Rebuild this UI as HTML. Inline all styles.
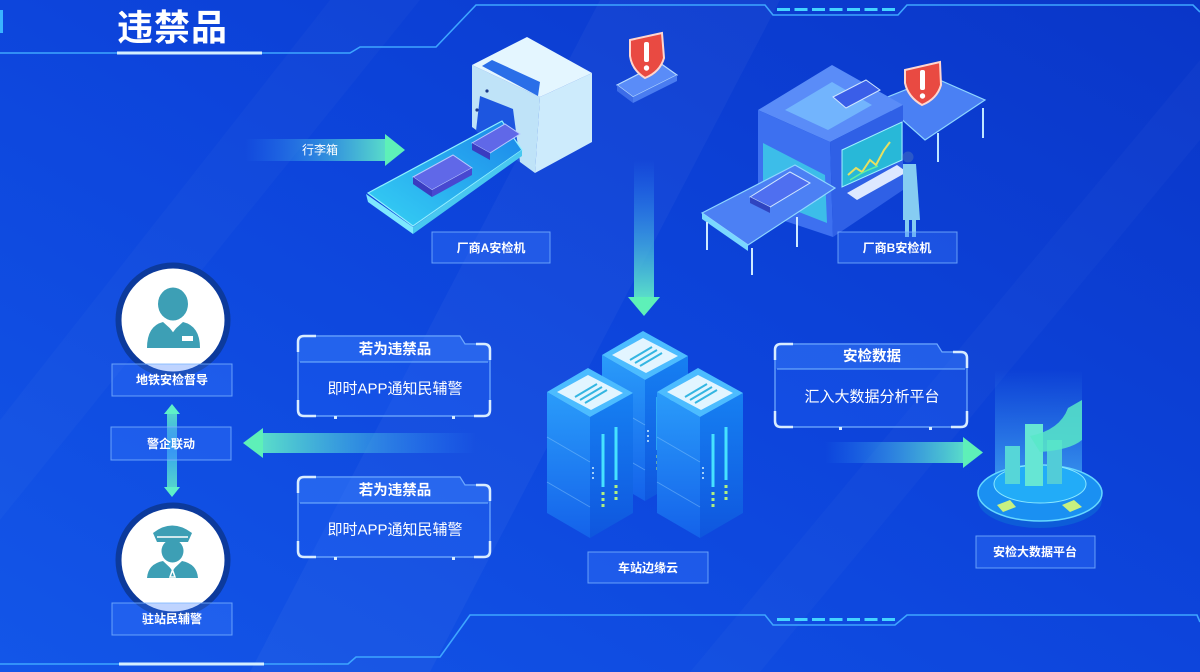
<!DOCTYPE html>
<html><head><meta charset="utf-8"><style>
html,body{margin:0;padding:0;width:1200px;height:672px;overflow:hidden;background:#0d44da}
svg{display:block}
text{font-family:"Liberation Sans","Noto Sans CJK SC",sans-serif;fill:#fff}
</style></head><body>
<svg width="1200" height="672" viewBox="0 0 1200 672" xmlns="http://www.w3.org/2000/svg">
<defs>
<linearGradient id="bg" x1="0" y1="1" x2="1" y2="0">
<stop offset="0" stop-color="#1356e8"/><stop offset="0.5" stop-color="#0d45dc"/><stop offset="1" stop-color="#0a36c8"/>
</linearGradient>
<linearGradient id="arR" x1="0" y1="0" x2="1" y2="0">
<stop offset="0" stop-color="#3aa8ff" stop-opacity="0"/><stop offset="1" stop-color="#5ee6c8" stop-opacity="0.95"/>
</linearGradient>
<linearGradient id="arL" x1="1" y1="0" x2="0" y2="0">
<stop offset="0" stop-color="#3aa8ff" stop-opacity="0"/><stop offset="1" stop-color="#5ee6c8" stop-opacity="0.95"/>
</linearGradient>
<linearGradient id="arD" x1="0" y1="0" x2="0" y2="1">
<stop offset="0" stop-color="#3aa8ff" stop-opacity="0"/><stop offset="1" stop-color="#5ee6c8" stop-opacity="0.95"/>
</linearGradient>
<linearGradient id="vArr" x1="0" y1="0" x2="0" y2="1">
<stop offset="0" stop-color="#5ee6c8"/><stop offset="0.5" stop-color="#3ab0f0"/><stop offset="1" stop-color="#5ee6c8"/>
</linearGradient>
<linearGradient id="col" x1="0" y1="0" x2="0" y2="1">
<stop offset="0" stop-color="#60d8ff" stop-opacity="0"/><stop offset="1" stop-color="#60e0ff" stop-opacity="0.55"/>
</linearGradient>
<linearGradient id="svL" x1="0" y1="0" x2="0" y2="1">
<stop offset="0" stop-color="#2a9cfa"/><stop offset="1" stop-color="#1462ea"/>
</linearGradient>
<linearGradient id="svR" x1="0" y1="0" x2="0" y2="1">
<stop offset="0" stop-color="#1680f2"/><stop offset="1" stop-color="#0f56de"/>
</linearGradient>
<linearGradient id="belt" x1="0" y1="1" x2="1" y2="0">
<stop offset="0" stop-color="#36d2f4"/><stop offset="1" stop-color="#1b86ea"/>
</linearGradient>
<g id="server">
<polygon points="0,0 43,25 43,146 0,121" fill="url(#svL)"/>
<polygon points="43,25 86,1 86,121 43,146" fill="url(#svR)"/>
<polygon points="0,0 41,-24 86,1 43,25" fill="#4cbcff"/>
<polygon points="10,0 41,-17 76,1 44,18" fill="#e2f5ff"/>
<line x1="28" y1="5" x2="50" y2="-8" stroke="#34b6e2" stroke-width="2"/>
<line x1="33" y1="8" x2="55" y2="-5" stroke="#34b6e2" stroke-width="2"/>
<line x1="38" y1="11" x2="60" y2="-2" stroke="#34b6e2" stroke-width="2"/>
<line x1="0" y1="45" x2="43" y2="70" stroke="#9ad4ff" stroke-opacity="0.4"/>
<line x1="0" y1="90" x2="43" y2="115" stroke="#9ad4ff" stroke-opacity="0.4"/>
<line x1="56" y1="42" x2="56" y2="95" stroke="#46e2ff" stroke-width="3"/>
<line x1="69" y1="35" x2="69" y2="88" stroke="#46e2ff" stroke-width="3"/>
<line x1="56" y1="100" x2="56" y2="118" stroke="#b0f080" stroke-width="3" stroke-dasharray="3,3"/>
<line x1="69" y1="93" x2="69" y2="111" stroke="#b0f080" stroke-width="3" stroke-dasharray="3,3"/>
<line x1="46" y1="75" x2="46" y2="90" stroke="#cfefff" stroke-width="1.5" stroke-dasharray="2,3"/>
</g>
</defs>

<rect width="1200" height="672" fill="url(#bg)"/>
<polygon points="250,672 430,672 780,0 600,0" fill="#ffffff" opacity="0.035"/>
<polygon points="690,672 760,672 1200,140 1200,60" fill="#ffffff" opacity="0.025"/>
<polygon points="0,420 0,520 420,0 330,0" fill="#ffffff" opacity="0.025"/>

<!-- frame top -->
<path d="M0,53 H350 L360,47 H436 L476,5 H765 L773,15 H898 L907,5 H1193 L1200,12" fill="none" stroke="#3ea6ff" stroke-width="1.6"/>
<line x1="117" y1="53" x2="262" y2="53" stroke="#d4efff" stroke-width="3"/>
<rect x="0" y="10" width="3" height="23" fill="#3ab4ff"/>
<line x1="777" y1="9.5" x2="897" y2="9.5" stroke="#44d4ff" stroke-width="3" stroke-dasharray="13,4.5"/>
<!-- frame bottom -->
<path d="M0,664 H348 L356,657 H440 L470,615 H765 L773,625 H895 L907,615 H1197 L1200,622" fill="none" stroke="#3ea6ff" stroke-width="1.6"/>
<line x1="119" y1="664" x2="264" y2="664" stroke="#d4efff" stroke-width="3"/>
<line x1="777" y1="619.5" x2="895" y2="619.5" stroke="#44d4ff" stroke-width="3" stroke-dasharray="13,4.5"/>

<text x="117" y="40" font-size="36" font-weight="bold" letter-spacing="1">违禁品</text>

<!-- luggage arrow -->
<rect x="245" y="139" width="142" height="22" fill="url(#arR)"/>
<polygon points="385,134 405,150 385,166" fill="#5ef0b8"/>
<text x="320" y="150" font-size="12" text-anchor="middle" dominant-baseline="central">行李箱</text>

<!-- Machine A -->
<polygon points="472,65 540,97 535,173 472,127" fill="#bfe3f8"/>
<polygon points="540,97 592,73 592,142 535,173" fill="#cdebfc"/>
<polygon points="472,65 527,37 592,73 540,97" fill="#e4f6ff"/>
<polygon points="482,66 492,60 540,82 538,96" fill="#2a6ee8"/>
<polygon points="480,96 513,109 520,162 476,131" fill="#1d56e0"/>
<polygon points="368,193 502,121 522,150 413,226" fill="url(#belt)" stroke="#8ff0ff" stroke-width="1.2"/>
<polygon points="366,194 413,227 413,234 368,202" fill="#7ee8ff"/>
<polygon points="413,227 522,150 522,156 413,234" fill="#48c8f0"/>
<polygon points="413,177 453,155 472,168 432,190" fill="#6068e8" stroke="#b8c8ff" stroke-width="1"/>
<polygon points="413,177 432,190 432,197 413,184" fill="#3a3cc0"/>
<polygon points="432,190 472,168 472,175 432,197" fill="#4848d0"/>
<polygon points="472,143 505,124 520,134 490,153" fill="#6068e8" stroke="#b8c8ff" stroke-width="1"/>
<polygon points="472,143 490,153 490,160 472,150" fill="#3a3cc0"/>
<circle cx="487" cy="91" r="1.6" fill="#1d3a8a"/><circle cx="477" cy="110" r="1.6" fill="#1d3a8a"/>

<!-- Shield A + platform -->
<polygon points="617,85 660,63 677,75 633,97" fill="#5a8cf8" stroke="#b8dcff" stroke-width="1.2"/>
<polygon points="617,85 633,97 633,103 617,91" fill="#3c6ce8"/>
<polygon points="633,97 677,75 677,81 633,103" fill="#4a7cf0"/>
<path d="M630,40 L662,33 L664,58 Q660,72 645,78 Q632,70 630,56 Z" fill="#e94a42" stroke="#ffd6cf" stroke-width="2"/>
<rect x="644" y="42" width="5" height="20" rx="2" fill="#fff"/>
<circle cx="646.5" cy="68" r="2.7" fill="#fff"/>

<!-- Machine B -->
<polygon points="880,100 935,78 985,100 925,140" fill="#4a80f4" stroke="#8fd6ff" stroke-width="1.2"/>
<line x1="938" y1="133" x2="938" y2="162" stroke="#bfe6ff" stroke-width="2"/>
<line x1="983" y1="108" x2="983" y2="138" stroke="#bfe6ff" stroke-width="2"/>
<polygon points="758,110 832,65 903,105 830,142" fill="#5a8cf8"/>
<polygon points="785,110 832,82 872,105 828,130" fill="#7cc4ff" opacity="0.7"/>
<polygon points="833,97 866,80 880,90 846,108" fill="#3a5ee8" stroke="#cfe6ff" stroke-width="1"/>
<polygon points="758,110 830,142 833,237 758,212" fill="#3d70f0"/>
<polygon points="830,142 903,105 903,190 833,237" fill="#2f60e6"/>
<polygon points="763,143 825,175 827,223 763,198" fill="#3ccae8" opacity="0.85"/>
<polygon points="842,150 902,122 902,160 842,187" fill="#28b8d8" stroke="#9ff0ff" stroke-width="1"/>
<polyline points="848,175 856,168 862,172 870,160 876,165 884,150 890,142" fill="none" stroke="#e8e060" stroke-width="2"/>
<polyline points="850,180 860,174 868,170 878,166" fill="none" stroke="#60f0a0" stroke-width="1.5"/>
<polygon points="847,193 897,165 907,172 857,200" fill="#dde8ff"/>
<polygon points="702,213 795,165 835,188 748,245" fill="#4c80f4" stroke="#8fd6ff" stroke-width="1.2"/>
<polygon points="702,213 748,245 748,251 702,219" fill="#7ad8ff"/>
<polygon points="750,197 790,172 810,183 770,207" fill="#4f6ff0" stroke="#cfe6ff" stroke-width="1"/>
<polygon points="750,197 770,207 770,213 750,203" fill="#2f44c0"/>
<line x1="707" y1="222" x2="707" y2="250" stroke="#cfeaff" stroke-width="2"/>
<line x1="752" y1="248" x2="752" y2="275" stroke="#cfeaff" stroke-width="2"/>
<line x1="797" y1="217" x2="797" y2="247" stroke="#cfeaff" stroke-width="2"/>
<circle cx="908" cy="157" r="5.5" fill="#2a58c8"/>
<path d="M903,164 H916 L920,220 H903 Z" fill="#86ccf2"/>
<rect x="905" y="220" width="4" height="17" fill="#86ccf2"/><rect x="912" y="220" width="4" height="17" fill="#86ccf2"/>
<path d="M905,70 L940,62 L941,85 Q937,99 922,105 Q908,97 905,83 Z" fill="#e94a42" stroke="#ffd6cf" stroke-width="2"/>
<rect x="920" y="70" width="5" height="20" rx="2" fill="#fff"/>
<circle cx="922.5" cy="96" r="2.7" fill="#fff"/>

<!-- down arrow -->
<rect x="634" y="160" width="20" height="138" fill="url(#arD)"/>
<polygon points="628,297 660,297 644,316" fill="#5ef0b8"/>

<!-- servers -->
<use href="#server" x="602" y="355"/>
<use href="#server" x="547" y="392"/>
<use href="#server" x="657" y="392"/>

<!-- platform -->
<rect x="995" y="370" width="87" height="120" fill="url(#col)"/>
<ellipse cx="1040" cy="500" rx="62" ry="28" fill="#0d5cd8"/>
<ellipse cx="1040" cy="493" rx="62" ry="28" fill="#1a90f2" stroke="#66d8ff" stroke-width="1.5"/>
<ellipse cx="1040" cy="484" rx="46" ry="19" fill="#22acf8" stroke="#8ae8ff" stroke-width="1"/>
<polygon points="997,505 1010,500 1016,507 1003,512" fill="#c8f080"/>
<polygon points="1062,505 1074,500 1082,507 1070,512" fill="#c8f080"/>
<rect x="1005" y="446" width="15" height="38" fill="#56d6d8"/>
<rect x="1025" y="424" width="18" height="62" fill="#66e6d4"/>
<rect x="1047" y="440" width="15" height="44" fill="#52ccd8"/>
<path d="M1030,436 Q1060,430 1068,408 L1082,400 L1082,440 Q1070,450 1040,452 Z" fill="#58e8c8" opacity="0.85"/>

<!-- callout 1 -->
<path d="M304,336 H460 L465,344 H484 Q490,344 490,350 V410 Q490,416 484,416 H304 Q298,416 298,410 V342 Q298,336 304,336 Z" fill="#2a6cff" fill-opacity="0.22" stroke="#74aeff" stroke-width="1.2"/>
<path d="M304,336 H460 L465,344 H484 Q490,344 490,350 V362 H298 V342 Q298,336 304,336 Z" fill="#4a90ff" fill-opacity="0.3"/>
<line x1="300" y1="362" x2="488" y2="362" stroke="#7ab8ff" stroke-width="1"/>
<path d="M298,352 V342 Q298,336 304,336 H316 M298,400 V410 Q298,416 304,416 H316 M474,416 H484 Q490,416 490,410 V400 M476,344 H484 Q490,344 490,350 V360" fill="none" stroke="#d8ecff" stroke-width="2.5"/>
<rect x="334" y="416" width="3" height="3" fill="#d8ecff"/><rect x="452" y="416" width="3" height="3" fill="#d8ecff"/>
<text x="395" y="350" font-size="14.5" font-weight="bold" text-anchor="middle" dominant-baseline="central">若为违禁品</text>
<text x="395" y="389" font-size="15" text-anchor="middle" dominant-baseline="central">即时APP通知民辅警</text>

<!-- callout 2 -->
<path d="M304,477 H460 L465,485 H484 Q490,485 490,491 V551 Q490,557 484,557 H304 Q298,557 298,551 V483 Q298,477 304,477 Z" fill="#2a6cff" fill-opacity="0.22" stroke="#74aeff" stroke-width="1.2"/>
<path d="M304,477 H460 L465,485 H484 Q490,485 490,491 V503 H298 V483 Q298,477 304,477 Z" fill="#4a90ff" fill-opacity="0.3"/>
<line x1="300" y1="503" x2="488" y2="503" stroke="#7ab8ff" stroke-width="1"/>
<path d="M298,493 V483 Q298,477 304,477 H316 M298,541 V551 Q298,557 304,557 H316 M474,557 H484 Q490,557 490,551 V541 M476,485 H484 Q490,485 490,491 V501" fill="none" stroke="#d8ecff" stroke-width="2.5"/>
<rect x="334" y="557" width="3" height="3" fill="#d8ecff"/><rect x="452" y="557" width="3" height="3" fill="#d8ecff"/>
<text x="395" y="491" font-size="14.5" font-weight="bold" text-anchor="middle" dominant-baseline="central">若为违禁品</text>
<text x="395" y="530" font-size="15" text-anchor="middle" dominant-baseline="central">即时APP通知民辅警</text>

<!-- callout 3 -->
<path d="M781,344 H937 L942,352 H961 Q967,352 967,358 V421 Q967,427 961,427 H781 Q775,427 775,421 V350 Q775,344 781,344 Z" fill="#2a6cff" fill-opacity="0.22" stroke="#74aeff" stroke-width="1.2"/>
<path d="M781,344 H937 L942,352 H961 Q967,352 967,358 V369 H775 V350 Q775,344 781,344 Z" fill="#4a90ff" fill-opacity="0.3"/>
<line x1="777" y1="369" x2="965" y2="369" stroke="#7ab8ff" stroke-width="1"/>
<path d="M775,360 V350 Q775,344 781,344 H793 M775,411 V421 Q775,427 781,427 H793 M951,427 H961 Q967,427 967,421 V411 M953,352 H961 Q967,352 967,358 V368" fill="none" stroke="#d8ecff" stroke-width="2.5"/>
<rect x="839" y="427" width="3" height="3" fill="#d8ecff"/><rect x="929" y="427" width="3" height="3" fill="#d8ecff"/>
<text x="872" y="357" font-size="14.5" font-weight="bold" text-anchor="middle" dominant-baseline="central">安检数据</text>
<text x="872" y="397" font-size="15" text-anchor="middle" dominant-baseline="central">汇入大数据分析平台</text>

<!-- left arrow -->
<rect x="261" y="433" width="215" height="20" fill="url(#arL)"/>
<polygon points="243,443 263,428 263,458" fill="#5ef0b8"/>
<!-- right arrow -->
<rect x="825" y="442" width="140" height="21" fill="url(#arR)"/>
<polygon points="963,437 983,452.5 963,468" fill="#5ef0b8"/>

<!-- vertical double arrow -->
<rect x="167" y="410" width="10" height="80" fill="url(#vArr)" opacity="0.9"/>
<polygon points="164,414 172,404 180,414" fill="#5ef0c8"/>
<polygon points="164,487 172,497 180,487" fill="#5ef0c8"/>

<!-- person 1 -->
<circle cx="173" cy="320" r="57.5" fill="#0c3a9c"/>
<circle cx="173" cy="320" r="51.5" fill="#ffffff"/>
<ellipse cx="173" cy="304" rx="15" ry="16.5" fill="#3d9fb5"/>
<path d="M147,348 Q147,326 163,322 L173,331 L183,322 Q200,326 200,348 Z" fill="#3d9fb5"/>
<path d="M167,323 L173,331 L179,323" fill="none" stroke="#fff" stroke-width="1.5"/>
<rect x="182" y="336" width="11" height="5" fill="#fff"/>

<!-- person 2 -->
<circle cx="173" cy="560" r="57.5" fill="#0c3a9c"/>
<circle cx="173" cy="560" r="51.5" fill="#ffffff"/>
<path d="M153,533 Q172,518 192,533 L188,542 H157 Z" fill="#3d9fb5"/>
<line x1="157" y1="537" x2="188" y2="537" stroke="#fff" stroke-width="1.5"/>
<ellipse cx="172.5" cy="551" rx="11" ry="11.5" fill="#3d9fb5"/>
<path d="M147,578 Q148,564 163,561 L172.5,570 L182,561 Q197,564 198,578 Z" fill="#3d9fb5"/>
<path d="M168,563 L172.5,570 L177,563 M172.5,570 L170,577 H175 Z" fill="none" stroke="#fff" stroke-width="1.5"/>

<!-- label boxes -->
<g fill="#3c7cff" fill-opacity="0.33" stroke="#7cb4ff" stroke-opacity="0.8" stroke-width="1">
<rect x="432" y="232" width="118" height="31"/>
<rect x="838" y="232" width="119" height="31"/>
<rect x="588" y="552" width="120" height="31"/>
<rect x="976" y="536" width="119" height="32"/>
<rect x="112" y="364" width="120" height="32"/>
<rect x="111" y="427" width="120" height="33"/>
<rect x="112" y="603" width="120" height="32"/>
</g>
<g font-size="12" font-weight="bold" text-anchor="middle" dominant-baseline="central">
<text x="491" y="248">厂商A安检机</text>
<text x="897" y="248">厂商B安检机</text>
<text x="648" y="568">车站边缘云</text>
<text x="1035" y="552">安检大数据平台</text>
<text x="172" y="380">地铁安检督导</text>
<text x="171" y="444">警企联动</text>
<text x="172" y="619">驻站民辅警</text>
</g>
</svg>
</body></html>
